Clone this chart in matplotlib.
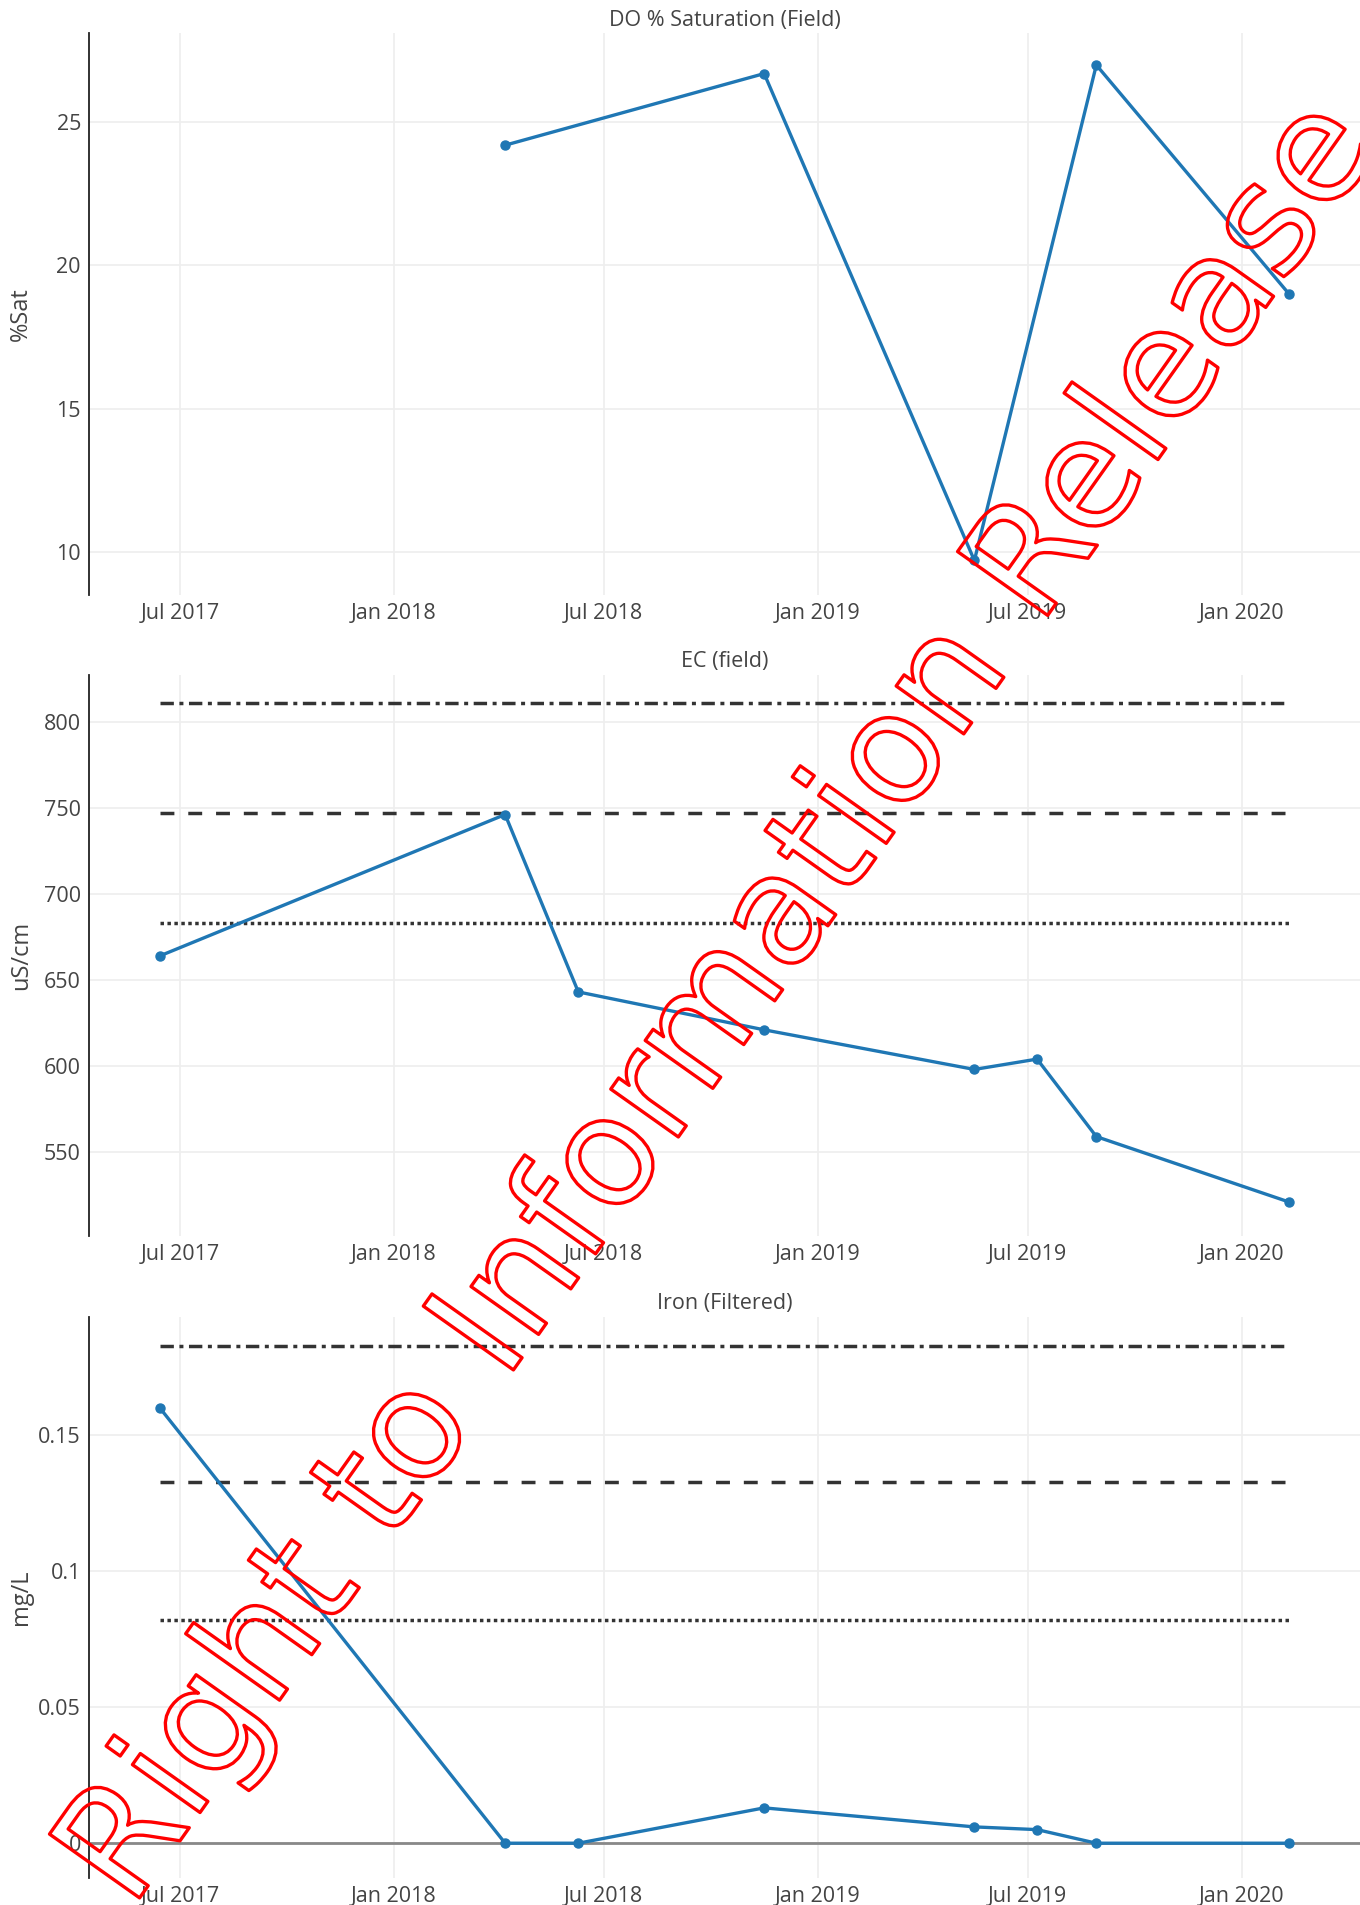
import numpy as np
import pandas as pd
import matplotlib
matplotlib.use("Agg")
import matplotlib.pyplot as plt
import matplotlib.dates as mdates
from matplotlib import patheffects

plt.rcParams['font.family'] = ['Open Sans', 'DejaVu Sans']

# DO % Saturation (Field)
do_dates = pd.to_datetime(["2018-04-07", "2018-11-16", "2019-05-16", "2019-08-29", "2020-02-11"])
do_sat = [24.2, 26.7, 9.7, 27.0, 19.0]

# EC (field) and Iron (Filtered) share the same sampling dates
ec_dates = pd.to_datetime(["2017-06-14", "2018-04-07", "2018-06-09", "2018-11-16",
                           "2019-05-16", "2019-07-09", "2019-08-29", "2020-02-11"])
ec_vals = [664, 746, 643, 621, 598, 604, 559, 521]
ec_limits = [811, 747, 683]

iron_vals = [0.16, 0.0, 0.0, 0.013, 0.006, 0.005, 0.0, 0.0]
iron_limits = [0.183, 0.133, 0.082]

titles = ["DO % Saturation (Field)", "EC (field)", "Iron (Filtered)"]
ylabels = ["%Sat", "uS/cm", "mg/L"]

X_MIN = pd.Timestamp("2017-04-14")
X_MAX = pd.Timestamp("2020-04-12")

LINE_BLUE = "#1f77b4"
TXT = "#444444"
GRID = "#eeeeee"
LIMIT = "#333333"
limit_styles = [(0, (3.85, 1.6, 1.15, 1.6)), (0, (4, 4)), (0, (1, 1))]

W, H = 1360, 1905
fig = plt.figure(figsize=(W / 100, H / 100), dpi=100)

# panel boxes in pixels: (top, bottom)
boxes = [(33.5, 595.1), (674.7, 1235.8), (1316.7, 1878.0)]
left_px = 89.3


def make_ax(top, bottom):
    ax = fig.add_axes([left_px / W, 1 - bottom / H, (W - left_px) / W, (bottom - top) / H])
    for s in ["top", "right", "bottom"]:
        ax.spines[s].set_visible(False)
    ax.spines["left"].set_color("#222222")
    ax.spines["left"].set_linewidth(1.3)
    ax.grid(True, color=GRID, linewidth=1.2)
    ax.set_axisbelow(True)
    ax.tick_params(length=0, labelsize=15.5, labelcolor=TXT, pad=6)
    ax.set_xlim(X_MIN, X_MAX)
    ax.xaxis.set_major_locator(mdates.MonthLocator(bymonth=[1, 7]))
    ax.xaxis.set_major_formatter(mdates.DateFormatter("%b %Y"))
    return ax


axes = [make_ax(t, b) for t, b in boxes]

# DO panel
ax = axes[0]
ax.plot(do_dates, do_sat, color=LINE_BLUE, lw=2.4, marker="o", ms=6.5)
ax.set_ylim(8.49, 28.1)
ax.set_yticks([10, 15, 20, 25])

# EC panel
ax = axes[1]
for val, ls in zip(ec_limits, limit_styles):
    ax.plot([ec_dates[0], ec_dates[-1]], [val, val], color=LIMIT, lw=2.5, linestyle=ls,
            dash_capstyle="butt")
ax.plot(ec_dates, ec_vals, color=LINE_BLUE, lw=2.4, marker="o", ms=6.5)
ax.set_ylim(501.4, 827.2)
ax.set_yticks([550, 600, 650, 700, 750, 800])

# Iron panel
ax = axes[2]
ax.axhline(0, color="#888888", lw=2, zorder=1.5)
for val, ls in zip(iron_limits, limit_styles):
    ax.plot([ec_dates[0], ec_dates[-1]], [val, val], color=LIMIT, lw=2.5, linestyle=ls,
            dash_capstyle="butt")
ax.plot(ec_dates, iron_vals, color=LINE_BLUE, lw=2.4, marker="o", ms=6.5)
ax.set_ylim(-0.0128, 0.1937)
ax.set_yticks([0, 0.05, 0.1, 0.15])
ax.set_yticklabels(["0", "0.05", "0.1", "0.15"])

for ax, (top, bottom), title, ylab in zip(axes, boxes, titles, ylabels):
    fig.text((left_px + W) / 2 / W, 1 - (top - 13) / H, title, ha="center", va="center",
             fontsize=15.5, color=TXT)
    fig.text(21 / W, 1 - (top + bottom) / 2 / H, ylab, ha="center", va="center",
             rotation=90, fontsize=17, color=TXT)

# watermark: red outline text, transparent fill, anchored at the baseline start
wm_angle = 54.7
em_px = 151.4
sx, sy = 131.0, 1910.0
fig.text(sx / W, 1 - sy / H, "Right to Information Release", ha="left", va="baseline",
         rotation=wm_angle, rotation_mode="anchor", fontsize=em_px / 100 * 72,
         color="none", family="DejaVu Sans",
         path_effects=[patheffects.Stroke(linewidth=2.4, foreground="red")])

fig.savefig("out.png", dpi=100)
